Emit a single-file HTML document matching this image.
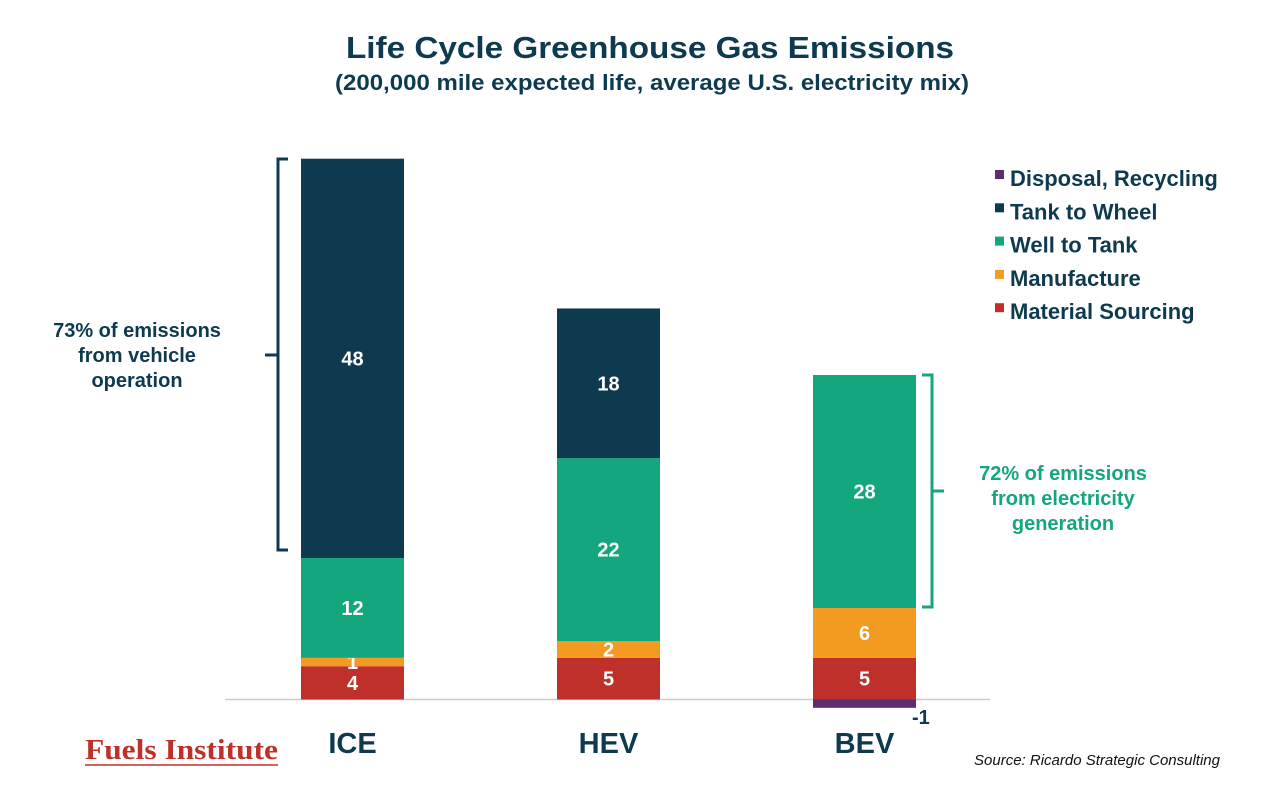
<!DOCTYPE html>
<html><head><meta charset="utf-8"><style>
body{margin:0;background:#fff;width:1264px;height:786px;overflow:hidden;font-family:"Liberation Sans",sans-serif}
</style></head><body>
<svg id="c" width="1264" height="786">
<text x="650" y="58" text-anchor="middle" font-size="31" font-weight="bold" fill="#0d3a4f" textLength="608" lengthAdjust="spacingAndGlyphs">Life Cycle Greenhouse Gas Emissions</text>
<text x="652" y="90" text-anchor="middle" font-size="22" font-weight="bold" fill="#0d3a4f" textLength="634" lengthAdjust="spacingAndGlyphs">(200,000 mile expected life, average U.S. electricity mix)</text>
<line x1="225" y1="699.5" x2="990" y2="699.5" stroke="#ccc" stroke-width="1.5"/>
<path d="M288 159 H278 V550 H288 M278 355 H265" fill="none" stroke="#0d3a4f" stroke-width="3"/>
<text font-size="20" font-weight="bold" fill="#0d3a4f" text-anchor="middle"><tspan x="137" y="337">73% of emissions</tspan><tspan x="137" y="362">from vehicle</tspan><tspan x="137" y="387">operation</tspan></text>
<path d="M922 375 H932 V607 H922 M932 491 H944" fill="none" stroke="#14a77e" stroke-width="3"/>
<text font-size="20" font-weight="bold" fill="#14a77e" text-anchor="middle"><tspan x="1063" y="480">72% of emissions</tspan><tspan x="1063" y="505">from electricity</tspan><tspan x="1063" y="530">generation</tspan></text>
<text x="85" y="759" font-family="Liberation Serif,serif" font-size="29" font-weight="bold" fill="#c0302a" textLength="193" lengthAdjust="spacingAndGlyphs">Fuels Institute</text>
<line x1="85" y1="765" x2="278" y2="765" stroke="#c0302a" stroke-width="1.5"/>
<text x="1220" y="765" text-anchor="end" font-size="15" font-style="italic" fill="#111">Source: Ricardo Strategic Consulting</text>
<g id="bars"></g><g id="legend"></g>
</svg>
<script>
const categories=["ICE","HEV","BEV"];
const seriesNames=["Material Sourcing","Manufacture","Well to Tank","Tank to Wheel","Disposal, Recycling"];
const materialSourcing=[4,5,5];
const manufacture=[1,2,6];
const wellToTank=[12,22,28];
const tankToWheel=[48,18,0];
const disposal=[0,0,-1];
const colors=["#c0302a","#f39a21","#14a77e","#0d3a4f","#5b2d6e"];
const series=[materialSourcing,manufacture,wellToTank,tankToWheel,disposal];
const NS="http://www.w3.org/2000/svg";
const y0=699.5,scale=8.32;
const y=v=>y0-v*scale;
const xc=i=>352.5+i*256;
const bw=103;
const g=document.getElementById('bars');
function mk(t,a){const e=document.createElementNS(NS,t);for(const k in a)e.setAttribute(k,a[k]);return e;}
categories.forEach((c,i)=>{
  let pos=0,neg=0;
  series.forEach((s,si)=>{
    const v=s[i]; if(!v) return;
    let top,bot;
    if(v>0){bot=pos;pos+=v;top=pos;}else{top=neg;neg+=v;bot=neg;}
    const r=mk('rect',{x:xc(i)-bw/2,y:y(top),width:bw,height:(top-bot)*scale,fill:colors[si]});
    
    
    g.appendChild(r);
    const t=mk('text',{'font-size':20,'font-weight':'bold','text-anchor':'middle',fill:'#fff'});
    if(v>0){t.setAttribute('x',xc(i));t.setAttribute('y',(y(top)+y(bot))/2+7);}
    else{t.setAttribute('x',xc(i)+bw/2-4);t.setAttribute('y',y(bot)+16);t.setAttribute('fill','#0d3a4f');t.setAttribute('text-anchor','start');}
    t.textContent=v;
    
    
    g.appendChild(t);
  });
  const l=mk('text',{x:xc(i),y:753,'font-size':29,'font-weight':'bold','text-anchor':'middle',fill:'#0d3a4f'});
  l.textContent=c;
  
  
  g.appendChild(l);
});
const lg=document.getElementById('legend');
[4,3,2,1,0].forEach((si,k)=>{
  const yy=178+k*33.3;
  const r=mk('rect',{x:995,y:yy-8,width:9,height:9,fill:colors[si]});
  
  
  lg.appendChild(r);
  const t=mk('text',{x:1010,y:yy+8,'font-size':22,'font-weight':'bold',fill:'#0d3a4f'});
  t.textContent=seriesNames[si];
  
  
  lg.appendChild(t);
});
</script>
</body></html>
